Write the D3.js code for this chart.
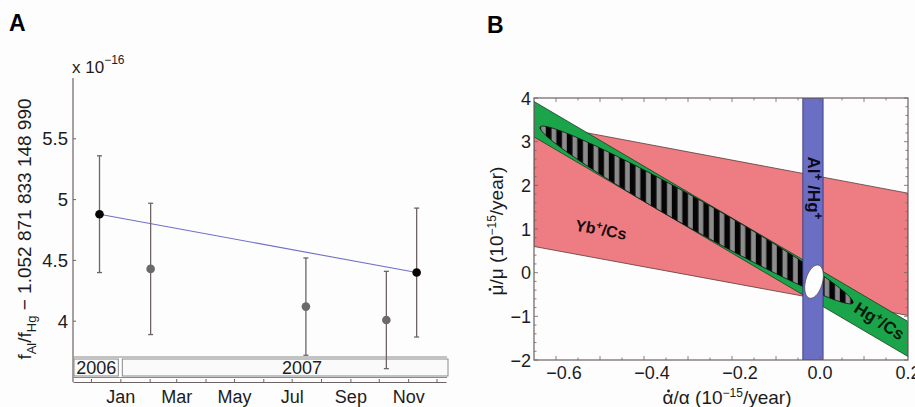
<!DOCTYPE html>
<html>
<head>
<meta charset="utf-8">
<script src="https://cdn.jsdelivr.net/npm/d3@7"></script>
<style>
  body { margin: 0; background: #fdfdfd; }
  svg { font-family: "Liberation Sans", Arial, sans-serif; }
</style>
</head>
<body>
<svg id="chart" width="915" height="407"></svg>
<script>
// ---- Panel A data: frequency ratio measurements ----
const dates = [new Date(2006, 11, 10), new Date(2007, 1, 2), new Date(2007, 6, 16), new Date(2007, 9, 9), new Date(2007, 10, 10)];
const ratioValues = [4.88, 4.43, 4.12, 4.01, 4.40];
const errLow = [4.40, 3.89, 3.72, 3.61, 3.87];
const errHigh = [5.36, 4.97, 4.52, 4.41, 4.93];
const highlighted = [true, false, false, false, true];
const yTicksA = [4, 4.5, 5, 5.5];
const years = ['2006', '2007'];

// ---- Panel B data: constraint bands (mu-dot value at left / right edge of plot) ----
const xEdges = [-0.65, 0.2];
const ybUpper = [3.43, 1.82];
const ybLower = [0.60, -0.98];
const hgUpper = [3.92, -1.12];
const hgLower = [3.11, -1.92];
const alHgRange = [-0.039, 0.007];
// combined (striped) ellipse: centre, half major axis, half minor axis
const comboCenter = [-0.2805, 1.321];
const comboMajor = [0.3555, -2.015];
const comboMinor = [-0.0162, -0.29];
// Al+/Hg+ + Yb+/Cs + Hg+/Cs result (white ellipse)
const resultCenter = [-0.0136, -0.206];
const resultMajor = [0.0102, 0.378];
const resultMinor = [0.0186, -0.05];
const xTicksB = [-0.6, -0.4, -0.2, 0.0, 0.2];
const yTicksB = [-2, -1, 0, 1, 2, 3, 4];

const svg = d3.select('#chart');
const axisColor = '#6e6363';
const textColor = '#1c1c1c';

// =================== Panel A ===================
const xA = d3.scaleTime()
    .domain([new Date(2006, 10, 12), new Date(2007, 11, 11)])
    .range([73, 446]);
const yA = d3.scaleLinear().domain([3.5, 6]).range([382, 78]);

svg.append('text').attr('x', 9).attr('y', 31)
    .attr('font-size', 23).attr('font-weight', 'bold').text('A');

// y axis (line + inward ticks)
const gyA = svg.append('g');
gyA.append('line').attr('x1', 73).attr('x2', 73).attr('y1', 78).attr('y2', 382)
    .attr('stroke', axisColor).attr('stroke-width', 1.2);
gyA.selectAll('.tk').data(yTicksA).enter().append('line')
    .attr('x1', 73).attr('x2', 76).attr('y1', d => yA(d)).attr('y2', d => yA(d))
    .attr('stroke', axisColor);
gyA.selectAll('.lb').data(yTicksA).enter().append('text')
    .attr('x', 68).attr('y', d => yA(d) + 6.5).attr('text-anchor', 'end')
    .attr('font-size', 18.5).attr('fill', textColor).text(d => d);

// multiplier
const mult = svg.append('text').attr('x', 72).attr('y', 73).attr('font-size', 17).attr('fill', textColor);
mult.append('tspan').text('x 10');
mult.append('tspan').attr('dy', -9).attr('font-size', 12).text('\u221216');

// y label
const ylabA = svg.append('text').attr('transform', 'translate(31,229) rotate(-90)')
    .attr('text-anchor', 'middle').attr('font-size', 19).attr('fill', textColor);
ylabA.append('tspan').text('f');
ylabA.append('tspan').attr('dy', 5).attr('font-size', 13).text('Al');
ylabA.append('tspan').attr('dy', -5).text('/f');
ylabA.append('tspan').attr('dy', 5).attr('font-size', 13).text('Hg');
ylabA.append('tspan').attr('dy', -5).text(' \u2212 1.052 871 833 148 990');

// x axis: month ticks pointing up, labels on odd months of 2007
const gxA = svg.append('g').attr('transform', 'translate(0,382)')
    .call(d3.axisBottom(xA)
        .ticks(d3.timeMonth.every(1))
        .tickSizeInner(-3).tickSizeOuter(0)
        .tickFormat(d => (d.getFullYear() === 2007 && d.getMonth() % 2 === 0) ? d3.timeFormat('%b')(d) : ''));
gxA.select('.domain').attr('stroke', axisColor).attr('stroke-width', 1.2);
gxA.selectAll('.tick line').attr('stroke', axisColor);
gxA.selectAll('.tick text').attr('font-size', 18).attr('fill', textColor).attr('dy', '1em')
    .attr('font-family', '"Liberation Sans", Arial, sans-serif');

// year bar
const jan07 = xA(new Date(2007, 0, 1));
svg.append('line').attr('x1', 73).attr('x2', 447).attr('y1', 357).attr('y2', 357)
    .attr('stroke', '#888').attr('stroke-width', 1);
svg.append('line').attr('x1', 73).attr('x2', 447).attr('y1', 377.5).attr('y2', 377.5)
    .attr('stroke', '#888').attr('stroke-width', 1);
const yearBoxes = [[xA.range()[0] + 1, jan07 - 2], [jan07 + 2, 448]];
svg.selectAll('.yr').data(years).enter().append('rect')
    .attr('x', (d, i) => yearBoxes[i][0]).attr('width', (d, i) => yearBoxes[i][1] - yearBoxes[i][0])
    .attr('y', 359).attr('height', 17)
    .attr('fill', '#fafafa').attr('stroke', '#8a8a8a').attr('stroke-width', 1);
svg.selectAll('.yrt').data(years).enter().append('text')
    .attr('x', (d, i) => i === 0 ? (yearBoxes[0][0] + yearBoxes[0][1]) / 2 : xA(new Date(2007, 6, 12)))
    .attr('y', 374).attr('text-anchor', 'middle').attr('font-size', 18).attr('fill', textColor)
    .text(d => d);

// fit line between first and last point
svg.append('line')
    .attr('x1', xA(dates[0])).attr('y1', yA(ratioValues[0]))
    .attr('x2', xA(dates[4])).attr('y2', yA(ratioValues[4]))
    .attr('stroke', '#6f6fc8').attr('stroke-width', 1.1);

// error bars
const eb = svg.selectAll('.eb').data(dates).enter().append('g');
eb.append('line')
    .attr('x1', d => xA(d)).attr('x2', d => xA(d))
    .attr('y1', (d, i) => yA(errLow[i])).attr('y2', (d, i) => yA(errHigh[i]))
    .attr('stroke', '#6e6464').attr('stroke-width', 1.3);
eb.append('line')
    .attr('x1', d => xA(d) - 2.5).attr('x2', d => xA(d) + 2.5)
    .attr('y1', (d, i) => yA(errLow[i])).attr('y2', (d, i) => yA(errLow[i]))
    .attr('stroke', '#6e6464').attr('stroke-width', 1.3);
eb.append('line')
    .attr('x1', d => xA(d) - 2.5).attr('x2', d => xA(d) + 2.5)
    .attr('y1', (d, i) => yA(errHigh[i])).attr('y2', (d, i) => yA(errHigh[i]))
    .attr('stroke', '#6e6464').attr('stroke-width', 1.3);
svg.selectAll('.pt').data(dates).enter().append('circle')
    .attr('cx', d => xA(d)).attr('cy', (d, i) => yA(ratioValues[i])).attr('r', 4.3)
    .attr('fill', (d, i) => highlighted[i] ? '#050505' : '#6a6a6a');

// =================== Panel B ===================
const xB = d3.scaleLinear().domain([-0.65, 0.2]).range([534, 908]);
const yB = d3.scaleLinear().domain([-2, 4]).range([360, 98]);

svg.append('text').attr('x', 487).attr('y', 33)
    .attr('font-size', 23).attr('font-weight', 'bold').text('B');

const defs = svg.append('defs');
defs.append('clipPath').attr('id', 'clipB').append('rect')
    .attr('x', 534).attr('y', 98).attr('width', 374).attr('height', 262);
const pat = defs.append('pattern').attr('id', 'stripes')
    .attr('patternUnits', 'userSpaceOnUse').attr('width', 10.5).attr('height', 40);
pat.append('rect').attr('width', 10.5).attr('height', 40).attr('fill', '#050505');
pat.append('rect').attr('x', 5.5).attr('width', 4.8).attr('height', 40).attr('fill', '#8c8c8c');

const plotB = svg.append('g').attr('clip-path', 'url(#clipB)');
const bandLine = d3.line().x(d => xB(d[0])).y(d => yB(d[1]));
function band(upper, lower) {
  return [[xEdges[0], upper[0]], [xEdges[1], upper[1]], [xEdges[1], lower[1]], [xEdges[0], lower[0]]];
}
plotB.append('path').datum(band(ybUpper, ybLower))
    .attr('d', d => bandLine(d) + 'Z')
    .attr('fill', '#ee7d83').attr('stroke', '#5b3a3a').attr('stroke-width', 0.8);
plotB.append('path').datum(band(hgUpper, hgLower))
    .attr('d', d => bandLine(d) + 'Z')
    .attr('fill', '#1ba54b').attr('stroke', '#1d3b22').attr('stroke-width', 0.8);

function ellipse(c, a, b) {
  return d3.range(0, 360, 3).map(t => {
    const r = t * Math.PI / 180;
    return [c[0] + Math.cos(r) * a[0] + Math.sin(r) * b[0], c[1] + Math.cos(r) * a[1] + Math.sin(r) * b[1]];
  });
}
plotB.append('path').datum(ellipse(comboCenter, comboMajor, comboMinor))
    .attr('d', d => bandLine(d) + 'Z')
    .attr('fill', 'url(#stripes)').attr('stroke', '#111').attr('stroke-width', 0.8);

plotB.append('rect')
    .attr('x', xB(alHgRange[0])).attr('width', xB(alHgRange[1]) - xB(alHgRange[0]))
    .attr('y', 98).attr('height', 262)
    .attr('fill', '#6b6fc4').attr('stroke', '#2f3170').attr('stroke-width', 0.8);

plotB.append('path').datum(ellipse(resultCenter, resultMajor, resultMinor))
    .attr('d', d => bandLine(d) + 'Z')
    .attr('fill', '#ffffff').attr('stroke', '#555').attr('stroke-width', 1);

// frame with inward ticks on all sides
svg.append('rect').attr('x', 534).attr('y', 98).attr('width', 374).attr('height', 262)
    .attr('fill', 'none').attr('stroke', axisColor).attr('stroke-width', 1.2);
const tickG = svg.append('g').attr('stroke', axisColor).attr('stroke-width', 0.8);
const xMinor = d3.range(-0.65, 0.2001, 0.05).filter(v => v > -0.649 && v < 0.199);
xMinor.forEach(v => {
  const major = Math.abs(Math.round(v * 10) - v * 10) < 1e-6;
  const len = major ? 4 : 2.5;
  tickG.append('line').attr('x1', xB(v)).attr('x2', xB(v)).attr('y1', 360).attr('y2', 360 - len);
  tickG.append('line').attr('x1', xB(v)).attr('x2', xB(v)).attr('y1', 98).attr('y2', 98 + len);
});
d3.range(-2, 4.001, 0.2).forEach(v => {
  const major = Math.abs(Math.round(v) - v) < 1e-6;
  const len = major ? 4 : 2.5;
  tickG.append('line').attr('x1', 534).attr('x2', 534 + len).attr('y1', yB(v)).attr('y2', yB(v));
  tickG.append('line').attr('x1', 908).attr('x2', 908 - len).attr('y1', yB(v)).attr('y2', yB(v));
});

svg.selectAll('.xtb').data(xTicksB).enter().append('text')
    .attr('x', d => xB(d) + (d < 0 ? 8 : 0)).attr('y', 379).attr('text-anchor', 'middle')
    .attr('font-size', 18).attr('fill', textColor)
    .text(d => d3.format('.1f')(d).replace('-', '\u2212'));
svg.selectAll('.ytb').data(yTicksB).enter().append('text')
    .attr('x', 531).attr('y', d => yB(d) + 6.5).attr('text-anchor', 'end')
    .attr('font-size', 18).attr('fill', textColor)
    .text(d => String(d).replace('-', '\u2212'));

// axis labels with dotted (time-derivative) symbols
function rateLabel(transform, symbol) {
  const g = svg.append('g').attr('transform', transform);
  const t = g.append('text').attr('text-anchor', 'middle').attr('font-size', 19).attr('fill', textColor);
  t.append('tspan').text(symbol + '/' + symbol + ' (10');
  t.append('tspan').attr('dy', -7).attr('font-size', 12).text('\u221215');
  t.append('tspan').attr('dy', 7).text('/year)');
  const n = t.node();
  const s = n.getStartPositionOfChar(0).x, e = n.getEndPositionOfChar(0).x;
  g.append('circle').attr('cx', (s + e) / 2 + 0.5).attr('cy', -13).attr('r', 1.4).attr('fill', textColor);
}
rateLabel('translate(727,404)', '\u03b1');
rateLabel('translate(503,231) rotate(-90)', '\u03bc');

// band labels
function supLabel(g, base, rest) {
  g.append('tspan').text(base);
  g.append('tspan').attr('dy', -6).attr('font-size', 11).text('+');
  g.append('tspan').attr('dy', 6).text(rest);
}
const ybLab = svg.append('text')
    .attr('transform', `translate(${xB(-0.5)},${yB(0.86)}) rotate(10.5)`)
    .attr('text-anchor', 'middle').attr('font-size', 16).attr('font-weight', 'bold').attr('fill', '#1a0a0a');
supLabel(ybLab, 'Yb', '/Cs');
const hgLab = svg.append('text')
    .attr('transform', `translate(${xB(0.128)},${yB(-1.22)}) rotate(32)`)
    .attr('text-anchor', 'middle').attr('font-size', 17).attr('font-weight', 'bold').attr('fill', '#061a0a');
supLabel(hgLab, 'Hg', '/Cs');
const alLab = svg.append('text')
    .attr('transform', `translate(${xB(-0.027)},${yB(1.94)}) rotate(90)`)
    .attr('text-anchor', 'middle').attr('font-size', 17).attr('font-weight', 'bold').attr('fill', '#0a0a1a');
alLab.append('tspan').text('Al');
alLab.append('tspan').attr('dy', -6).attr('font-size', 12).text('+');
alLab.append('tspan').attr('dy', 6).text(' /Hg');
alLab.append('tspan').attr('dy', -6).attr('font-size', 12).text('+');
</script>
</body>
</html>
